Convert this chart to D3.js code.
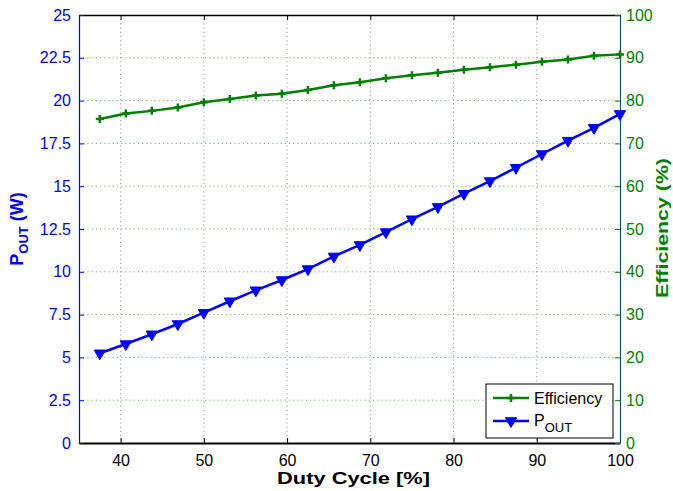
<!DOCTYPE html>
<html>
<head>
<meta charset="utf-8">
<script src="https://cdn.jsdelivr.net/npm/d3@7"></script>
<style>
body { margin: 0; background: #fff; }
text { font-family: "Liberation Sans", Arial, sans-serif; }
</style>
</head>
<body>
<svg id="chart" width="673" height="491"></svg>
<script>
// duty cycle steps of 100/32
const duty = [37.5, 40.625, 43.75, 46.875, 50, 53.125, 56.25, 59.375, 62.5, 65.625, 68.75,
	71.875, 75, 78.125, 81.25, 84.375, 87.5, 90.625, 93.75, 96.875, 100];
const pout = [5.24, 5.78, 6.35, 6.95, 7.61, 8.28, 8.92, 9.52, 10.16, 10.9, 11.57,
	12.32, 13.07, 13.79, 14.56, 15.30, 16.08, 16.88, 17.66, 18.41, 19.22];
const eff = [75.7, 77.0, 77.6, 78.4, 79.6, 80.4, 81.2, 81.6, 82.5, 83.6, 84.3,
	85.2, 85.9, 86.5, 87.2, 87.8, 88.4, 89.1, 89.6, 90.5, 90.8];
const xTicks = [40, 50, 60, 70, 80, 90, 100];
const leftTicks = d3.range(0, 25.01, 2.5);
const rightTicks = d3.range(0, 100.1, 10);

const blue = "#0000ff", green = "#008000";
const pl = 79, pr = 620, pt = 15, pb = 443;

const svg = d3.select("#chart");
const x = d3.scaleLinear().domain([35, 100]).range([pl, pr]);
const yL = d3.scaleLinear().domain([0, 25]).range([pb, pt]);
const yR = d3.scaleLinear().domain([0, 100]).range([pb, pt]);

// grids
svg.append("g").selectAll("line").data(xTicks.slice(0, -1)).join("line")
	.attr("x1", d => x(d)).attr("x2", d => x(d)).attr("y1", pt).attr("y2", pb)
	.attr("stroke", "#999").attr("stroke-dasharray", "1.2,3").attr("stroke-width", 1);
svg.append("g").selectAll("line").data(rightTicks.slice(1, -1)).join("line")
	.attr("y1", d => yR(d)).attr("y2", d => yR(d)).attr("x1", pl).attr("x2", pr)
	.attr("stroke", "#66bb66").attr("stroke-dasharray", "1.2,3").attr("stroke-width", 1);

// axes
const gx = svg.append("g").attr("transform", `translate(0,${pb})`)
	.call(d3.axisBottom(x).tickValues(xTicks).tickSizeInner(-5).tickSizeOuter(0).tickPadding(12));
gx.select(".domain").attr("stroke", "#000").attr("stroke-width", 1.8);
gx.selectAll("line").attr("stroke", "#000");
gx.selectAll("text").attr("font-size", 16).attr("fill", "#000");

const gt = svg.append("g").attr("transform", `translate(0,${pt})`)
	.call(d3.axisTop(x).tickValues(xTicks).tickSizeInner(-5).tickSizeOuter(0).tickFormat(""));
gt.select(".domain").attr("stroke", "#000").attr("stroke-width", 1.5);
gt.selectAll("line").attr("stroke", "#000");

const gl = svg.append("g").attr("transform", `translate(${pl},0)`)
	.call(d3.axisLeft(yL).tickValues(leftTicks).tickSizeInner(-5).tickSizeOuter(0).tickPadding(8)
		.tickFormat(d => d3.format("")(d)));
gl.select(".domain").attr("stroke", blue).attr("stroke-width", 1.2);
gl.selectAll("line").attr("stroke", blue);
gl.selectAll("text").attr("font-size", 16).attr("fill", blue);

const gr = svg.append("g").attr("transform", `translate(${pr},0)`)
	.call(d3.axisRight(yR).tickValues(rightTicks).tickSizeInner(-5).tickSizeOuter(0).tickPadding(6));
gr.select(".domain").attr("stroke", "#005a5a").attr("stroke-width", 1.2);
gr.selectAll("line").attr("stroke", green);
gr.selectAll("text").attr("font-size", 16).attr("fill", green);

// series
const effLine = d3.line().x((d, i) => x(duty[i])).y(d => yR(d));
const poutLine = d3.line().x((d, i) => x(duty[i])).y(d => yL(d));

svg.append("path").datum(eff).attr("d", effLine)
	.attr("fill", "none").attr("stroke", green).attr("stroke-width", 2.5);
svg.append("g").selectAll("path").data(eff).join("path")
	.attr("transform", (d, i) => `translate(${x(duty[i])},${yR(d)})`)
	.attr("d", "M-4,0H4M0,-4V4").attr("stroke", green).attr("stroke-width", 2.5);

svg.append("path").datum(pout).attr("d", poutLine)
	.attr("fill", "none").attr("stroke", blue).attr("stroke-width", 2.5);
const tri = d3.symbol().type(d3.symbolTriangle).size(55);
svg.append("g").selectAll("path").data(pout).join("path")
	.attr("transform", (d, i) => `translate(${x(duty[i])},${yL(d)}) rotate(180)`)
	.attr("d", tri).attr("fill", blue).attr("stroke", blue).attr("stroke-width", 1);

// axis titles
svg.append("text").attr("x", 277).attr("y", 484)
	.attr("textLength", 153).attr("lengthAdjust", "spacingAndGlyphs")
	.attr("font-size", 17).attr("font-weight", "bold").attr("fill", "#000").text("Duty Cycle [%]");

const lt = svg.append("text").attr("transform", `translate(23,${(pt + pb) / 2}) rotate(-90)`)
	.attr("text-anchor", "middle").attr("font-size", 18).attr("font-weight", "bold").attr("fill", blue);
lt.append("tspan").text("P");
lt.append("tspan").attr("dy", 5).attr("font-size", 13).text("OUT");
lt.append("tspan").attr("dy", -5).text(" (W)");

svg.append("text").attr("transform", "translate(668,298) rotate(-90)")
	.attr("textLength", 140).attr("lengthAdjust", "spacingAndGlyphs")
	.attr("font-size", 17).attr("font-weight", "bold").attr("fill", green)
	.text("Efficiency (%)");

// legend
const lg = svg.append("g").attr("transform", "translate(486,384)");
lg.append("rect").attr("width", 127).attr("height", 54).attr("fill", "#fff")
	.attr("stroke", "#000").attr("stroke-width", 1);
lg.append("line").attr("x1", 7).attr("x2", 43).attr("y1", 14).attr("y2", 14)
	.attr("stroke", green).attr("stroke-width", 2.5);
lg.append("path").attr("transform", "translate(25,14)").attr("d", "M-4,0H4M0,-4V4")
	.attr("stroke", green).attr("stroke-width", 2.5);
lg.append("text").attr("x", 48).attr("y", 20).attr("font-size", 16).text("Efficiency");
lg.append("line").attr("x1", 7).attr("x2", 43).attr("y1", 37).attr("y2", 37)
	.attr("stroke", blue).attr("stroke-width", 2.5);
lg.append("path").attr("transform", "translate(25,37) rotate(180)").attr("d", tri)
	.attr("fill", blue).attr("stroke", blue);
const lp = lg.append("text").attr("x", 48).attr("y", 42).attr("font-size", 16);
lp.append("tspan").text("P");
lp.append("tspan").attr("dy", 6).attr("font-size", 13).text("OUT");
</script>
</body>
</html>
